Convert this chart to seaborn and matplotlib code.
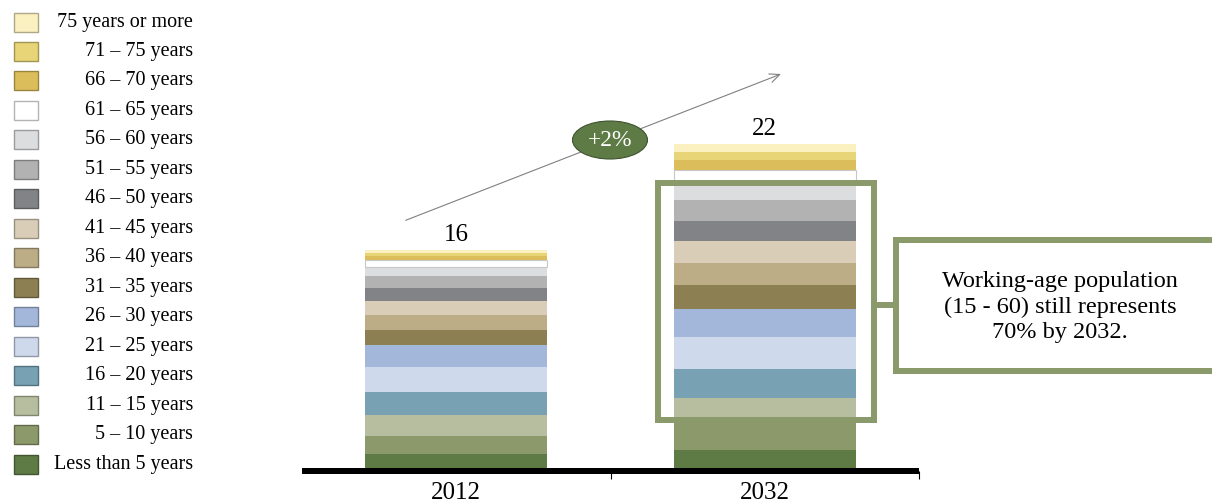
import numpy as np
import pandas as pd
import matplotlib
matplotlib.use("Agg")
import matplotlib.pyplot as plt
import matplotlib.patches as mpatches
from matplotlib.lines import Line2D
from matplotlib.ticker import FixedLocator, NullFormatter, FixedFormatter
import seaborn as sns

# ---------------- data ----------------
years = ["2012", "2032"]
age_groups = [
    "Less than 5 years", "5 – 10 years", "11 – 15 years", "16 – 20 years",
    "21 – 25 years", "26 – 30 years", "31 – 35 years", "36 – 40 years",
    "41 – 45 years", "46 – 50 years", "51 – 55 years", "56 – 60 years",
    "61 – 65 years", "66 – 70 years", "71 – 75 years", "75 years or more",
]
pop_2012 = [0.97, 1.24, 1.45, 1.59, 1.72, 1.52, 1.03, 1.03,
            0.97, 0.90, 0.83, 0.64, 0.46, 0.30, 0.21, 0.19]
pop_2032 = [1.24, 2.00, 1.59, 2.00, 2.21, 1.93, 1.66, 1.52,
            1.52, 1.38, 1.45, 1.10, 0.97, 0.69, 0.50, 0.60]
total_labels = ["16", "22"]
growth_label = "+2%"
callout_text = "Working-age population\n(15 - 60) still represents\n70% by 2032."

group_colors = [
    "#5E7B45", "#8B996B", "#B7BEA0", "#78A1B4",
    "#CED9EC", "#A3B7DA", "#8C7F52", "#BDAD86",
    "#D9CDB8", "#828387", "#B2B2B2", "#DCDDDF",
    "#FFFFFF", "#DBBE5B", "#E8D577", "#FAF0C0",
]

# ---------------- style ----------------
sns.set_theme(style="white")
plt.rcParams["font.family"] = ["Liberation Serif", "DejaVu Serif"]

W, H = 1212, 504
fig = plt.figure(figsize=(W / 100, H / 100), dpi=100)
fig.patch.set_facecolor("white")


def fx(x):
    return x / W


def fy(y):
    return 1 - y / H


PX_PER_UNIT = 14.5
ax_left, ax_right, ax_base = 302, 919, 468
ax = fig.add_axes([fx(ax_left), 1 - ax_base / H, (ax_right - ax_left) / W, ax_base / H])
ax.set_facecolor("none")

df = pd.DataFrame({
    "year": np.repeat(years, len(age_groups)),
    "group": age_groups * len(years),
    "pop": pop_2012 + pop_2032,
})

bottoms = np.zeros(len(years))
for k, g in enumerate(age_groups):
    sub = df[df["group"] == g]
    vals = sub.set_index("year").loc[years, "pop"].to_numpy()
    c = group_colors[k]
    is_white = c.upper() == "#FFFFFF"
    sns.barplot(data=sub, x="year", y="pop", order=years, color=c, saturation=1,
                width=0.59, errorbar=None, bottom=bottoms.copy(),
                edgecolor="#C8C8C8" if is_white else c,
                linewidth=0.8 if is_white else 0, ax=ax, zorder=2)
    bottoms += vals

for i, lab in enumerate(total_labels):
    ax.annotate(lab, xy=(i, bottoms[i]), xytext=(0, 3), textcoords="offset points",
                ha="center", va="bottom", fontsize=18, color="black")

ax.set_xlim(-0.5, 1.5)
ax.set_ylim(0, ax_base / PX_PER_UNIT)
for s in ["left", "right", "top"]:
    ax.spines[s].set_visible(False)
ax.spines["bottom"].set_color("black")
ax.spines["bottom"].set_linewidth(6 * 0.72)
ax.spines["bottom"].set_capstyle("butt")
ax.spines["bottom"].set_position(("outward", 3 * 0.72))
ax.set_xlabel("")
ax.set_ylabel("")
ax.set_yticks([])
ax.xaxis.set_major_locator(FixedLocator([0.5, 1.5]))
ax.xaxis.set_major_formatter(NullFormatter())
ax.xaxis.set_minor_locator(FixedLocator([0, 1]))
ax.xaxis.set_minor_formatter(FixedFormatter(years))
ax.tick_params(axis="x", which="major", direction="out", length=6, width=0.8,
               color="black", bottom=True)
ax.tick_params(axis="x", which="minor", length=0, pad=8, labelsize=18,
               labelcolor="black", bottom=True)
ax.grid(False)

# ---------------- legend (manual, right-aligned labels) ----------------
def darker(hexc, f=0.7):
    r, g, b = [int(hexc[i:i + 2], 16) / 255 for i in (1, 3, 5)]
    return (r * f, g * f, b * f)


row0, row_step = 22, 29.47
for i, k in enumerate(reversed(range(len(age_groups)))):
    yc = row0 + i * row_step
    c = group_colors[k]
    fig.add_artist(mpatches.Rectangle((fx(14), fy(yc + 9.5)), 24 / W, 19 / H,
                                      transform=fig.transFigure, facecolor=c,
                                      edgecolor=darker(c), lw=1))
    fig.text(fx(193), fy(yc), age_groups[k], ha="right", va="center",
             fontsize=14.5, color="black")

# ---------------- annotations ----------------
green = "#8A9A6B"
lw_box = 6 * 0.72
fig.add_artist(mpatches.Rectangle((fx(658), fy(419.7)), (874 - 658) / W, (419.7 - 183) / H,
                                  transform=fig.transFigure, fill=False,
                                  edgecolor=green, lw=lw_box, zorder=5))
fig.add_artist(Line2D([fx(877), fx(896)], [fy(304.5), fy(304.5)],
                      transform=fig.transFigure, color=green, lw=lw_box, zorder=5))
fig.add_artist(mpatches.Rectangle((fx(896), fy(371)), (1240 - 896) / W, (371 - 240) / H,
                                  transform=fig.transFigure, facecolor="white",
                                  edgecolor=green, lw=lw_box, zorder=5))
fig.text(fx(1060), fy(307), callout_text, ha="center", va="center", fontsize=17.5,
         linespacing=1.25, multialignment="center", color="black", zorder=6)

fig.add_artist(mpatches.FancyArrowPatch(
    posA=(fx(405.7), fy(220.3)), posB=(fx(781), fy(74)), transform=fig.transFigure,
    arrowstyle="->,head_length=0.72,head_width=0.32", mutation_scale=10,
    color="#808080", lw=0.8, shrinkA=0, shrinkB=0, zorder=3))
fig.add_artist(mpatches.Ellipse((fx(610), fy(140)), 75 / W, 38 / H,
                                transform=fig.transFigure, facecolor="#5E7B45",
                                edgecolor="#3E5230", lw=0.8, zorder=4))
fig.text(fx(610), fy(140), growth_label, ha="center", va="center", fontsize=17,
         color="white", zorder=7)

fig.savefig("out.png", dpi=100, facecolor="white")
